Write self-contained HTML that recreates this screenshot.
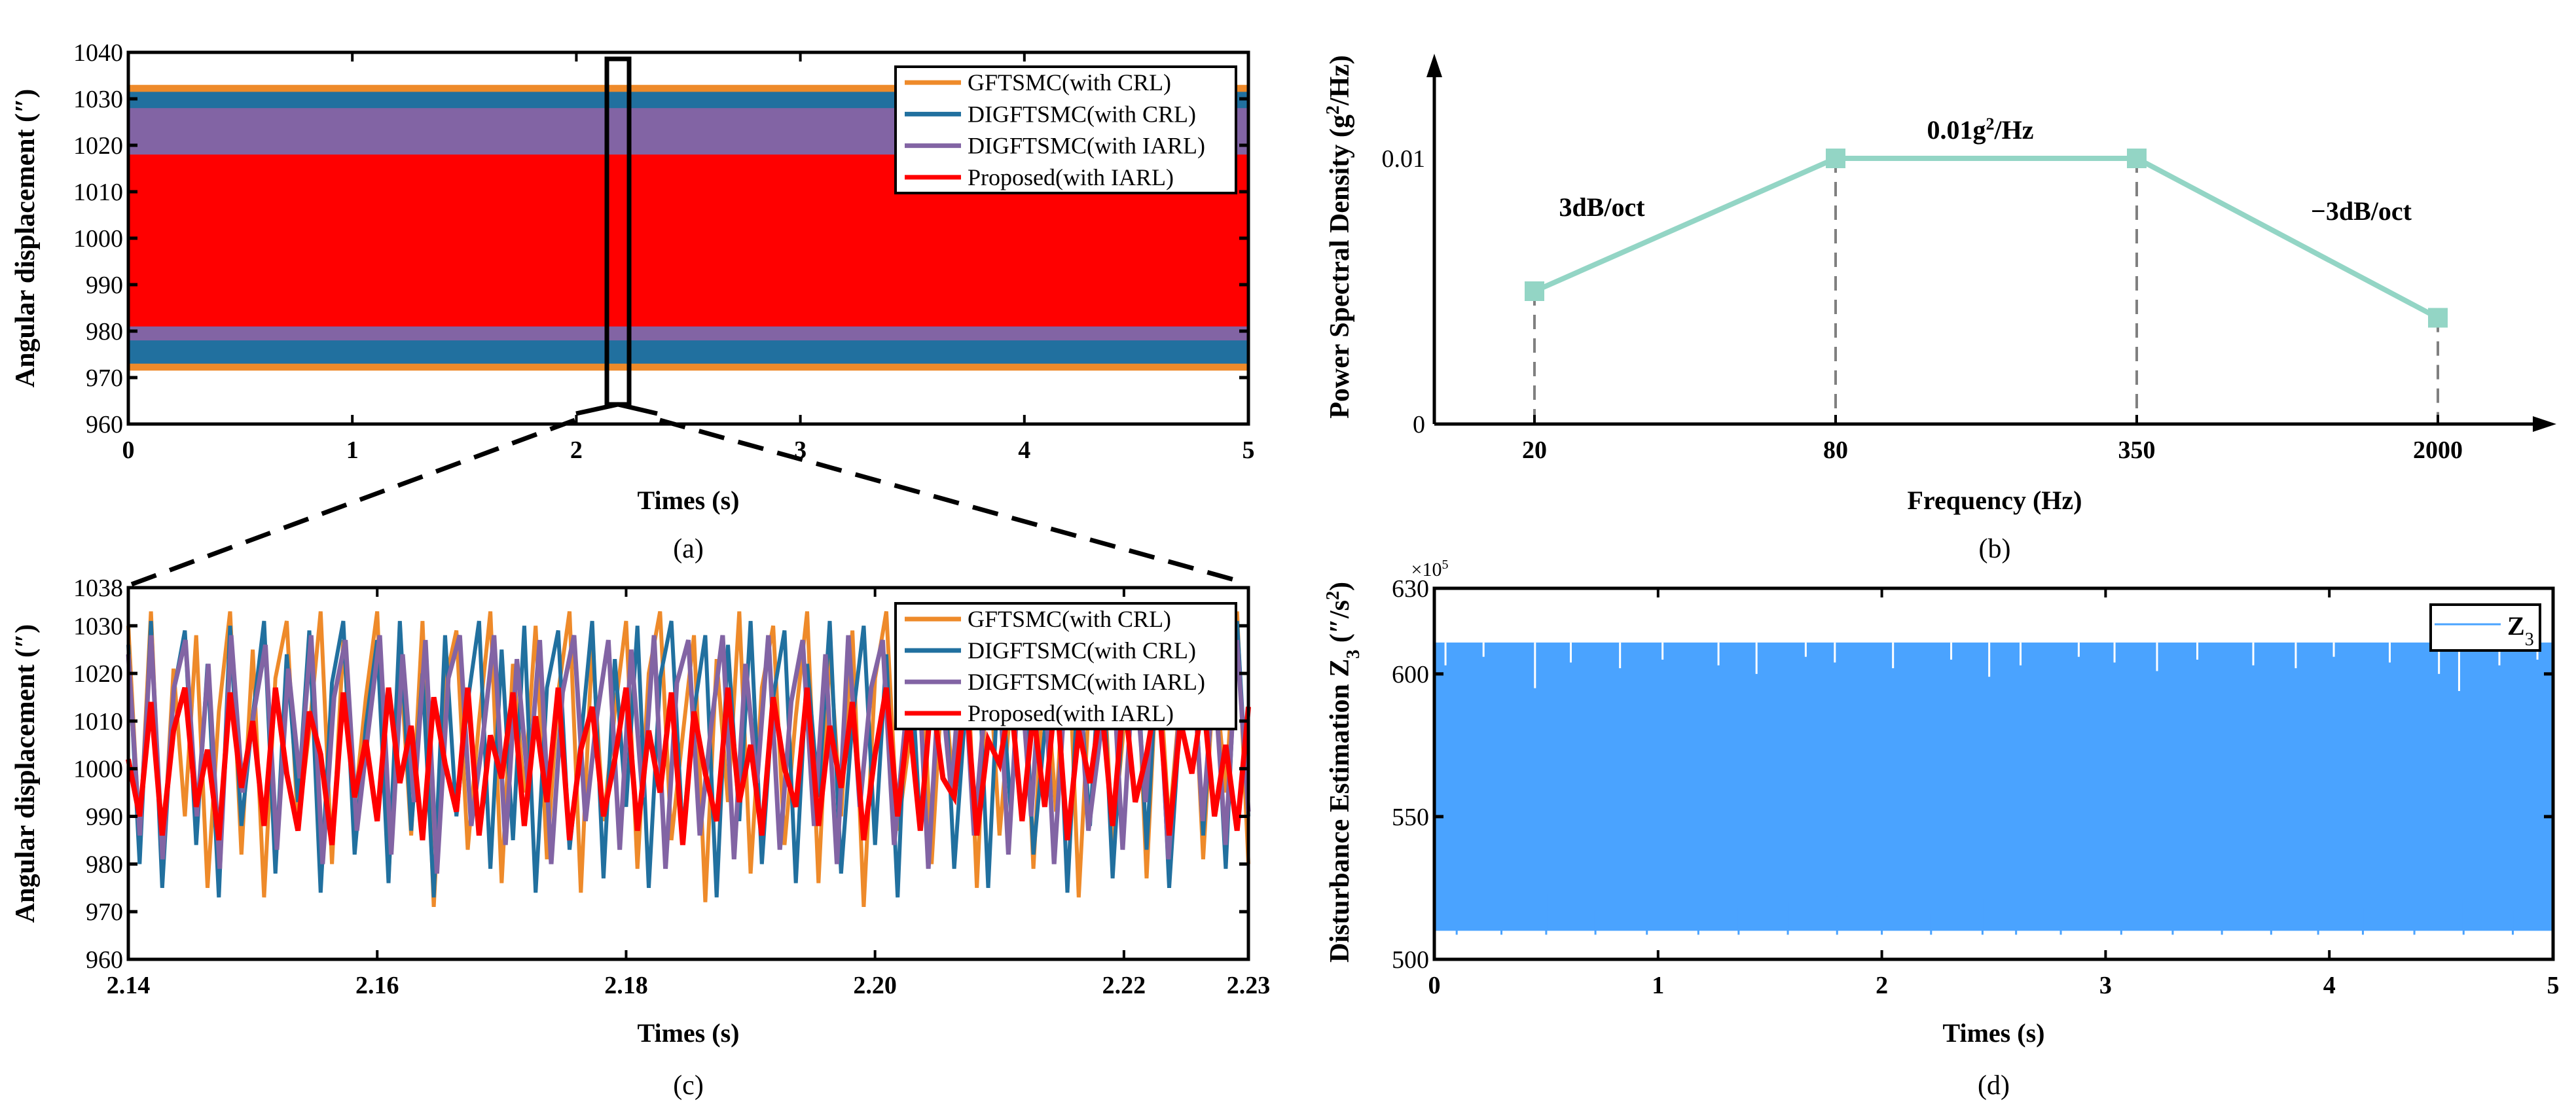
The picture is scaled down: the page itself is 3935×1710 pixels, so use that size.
<!DOCTYPE html>
<html><head><meta charset="utf-8">
<style>
html,body{margin:0;padding:0;background:#fff;}
svg{display:block;font-family:"Liberation Serif",serif;}
</style></head>
<body>
<svg id="fig" width="3935" height="1710" viewBox="0 0 3935 1710" xmlns="http://www.w3.org/2000/svg"></svg>
<script>
// ---------- Panel (a) data: envelopes of each series ----------
const aSeries = ["GFTSMC(with CRL)","DIGFTSMC(with CRL)","DIGFTSMC(with IARL)","Proposed(with IARL)"];
const aColors = ["#EE8A2A","#21709F","#8264A4","#FF0000"];
const aUpper = [1033, 1031.5, 1028, 1018];
const aLower = [971.5, 973, 978, 981];
const aYTicks = [960,970,980,990,1000,1010,1020,1030,1040];
const aXTicks = [0,1,2,3,4,5];

// ---------- Panel (c) data: zoomed signals ----------
const cXTicks = [2.14,2.16,2.18,2.20,2.22,2.23];
const cYTicks = [960,970,980,990,1000,1010,1020,1030,1038];
const cOrange = [1030,985,1033,978,1021,990,1028,975,1012,1033,982,1025,973,1019,1031,988,1008,1033,980,1027,992,1015,1033,977,1024,986,1031,971,1018,1029,983,1010,1033,976,1022,995,1030,981,1016,1033,974,1026,989,1012,1031,979,1020,1033,985,1007,1028,972,1023,993,1033,978,1017,1030,984,1011,1033,976,1025,990,1029,971,1019,1033,987,1005,1031,980,1021,994,1033,975,1027,986,1014,1032,979,1024,991,1033,973,1018,1030,984,1009,1033,977,1026,988,1016,1031,981,1022,995,1033,980];
const cBlue = [1026,980,1031,975,1016,1029,984,1022,973,1030,988,1011,1031,978,1024,993,1029,974,1018,1031,982,1009,1027,976,1031,987,1020,973,1028,990,1014,1031,979,1025,985,1030,974,1017,1029,983,1006,1031,977,1023,992,1030,975,1019,1031,986,1012,1028,973,1026,989,1031,980,1015,1029,976,1022,994,1031,978,1010,1030,984,1024,973,1031,987,1018,1028,979,1013,1031,975,1025,991,1030,982,1008,1031,974,1021,988,1029,977,1016,1031,983,1026,975,1012,1030,986,1023,979,1031,990];
const cPurple = [1024,986,1028,981,1017,1027,990,1022,979,1028,995,1012,1026,983,1021,998,1028,980,1015,1027,987,1008,1028,982,1024,993,1027,978,1019,1028,988,1006,1028,984,1023,996,1027,980,1016,1028,989,1011,1027,983,1025,994,1028,979,1018,1027,986,1009,1028,981,1022,997,1028,983,1014,1027,988,1024,980,1028,992,1017,1027,984,1010,1028,979,1021,995,1027,986,1015,1028,982,1023,990,1028,980,1018,1027,987,1006,1028,983,1024,993,1027,981,1013,1028,989,1020,984,1027,991];
const cRed = [1002,990,1014,986,1008,1017,992,1004,985,1016,996,1010,988,1017,999,987,1012,1003,984,1016,994,1006,989,1017,997,1009,985,1015,1001,991,1017,986,1007,998,1016,988,1011,993,1017,985,1004,1013,990,1002,1017,987,1008,995,1016,984,1012,999,989,1017,993,1005,986,1015,1000,992,1017,988,1009,996,1014,985,1003,1017,990,1011,987,1016,998,994,1017,986,1006,1001,1015,989,1012,992,1017,985,1008,997,1014,988,1016,993,1003,1017,986,1010,999,1015,990,1005,987,1013];

// ---------- Panel (b) data ----------
const bFreqLabels = ["20","80","350","2000"];
const bPSD = [0.005, 0.01, 0.01, 0.004];
const bYTicks = [0, 0.01];

// ---------- Panel (d) data ----------
const dXTicks = [0,1,2,3,4,5];
const dYTicks = [500,550,600,630];
const dUpper = 611;
const dLower = 510;
const dDipTimes = [0.05,0.22,0.45,0.61,0.83,1.02,1.27,1.44,1.66,1.79,2.05,2.31,2.48,2.62,2.88,3.04,3.23,3.41,3.66,3.85,4.02,4.27,4.49,4.58,4.76,4.93];
const dDipValues = [603,606,595,604,602,605,603,600,606,604,602,605,599,603,606,604,601,605,603,602,606,604,600,594,603,605];
const dRiseTimes = [0.1,0.3,0.5,0.72,0.95,1.18,1.36,1.58,1.8,2.0,2.22,2.45,2.6,2.8,3.07,3.3,3.52,3.74,3.95,4.15,4.38,4.6,4.82];
const dRiseValues = [520,516,523,517,519,516,518,520,522,517,516,521,524,518,519,525,517,520,516,518,519,521,517];

const NS = "http://www.w3.org/2000/svg";
const svg = document.getElementById('fig');
function el(tag, attrs, parent, text){
  const e = document.createElementNS(NS, tag);
  for (const k in attrs) e.setAttribute(k, attrs[k]);
  if (text !== undefined) e.textContent = text;
  (parent || svg).appendChild(e);
  return e;
}
function lin(d0,d1,r0,r1){ return v => r0 + (v-d0)/(d1-d0)*(r1-r0); }

function frame(g, L, R, T, B){
  const f = el('rect',{x:L,y:T,width:R-L,height:B-T,fill:'none',stroke:'#000','stroke-width':5},g);
  
  
}
function yTicksDraw(g, ticks, ys, L, R, labels){
  ticks.forEach((t,i)=>{
    const y = ys(t);
    const tk = el('line',{x1:L,y1:y,x2:L+14,y2:y,stroke:'#000','stroke-width':5},g);
    
    
    if (R) el('line',{x1:R,y1:y,x2:R-14,y2:y,stroke:'#000','stroke-width':5},g);
    const lb = el('text',{x:L-8,y:y+13,'text-anchor':'end','font-size':38},g, labels? labels[i] : String(t));
    
    
  });
}
function xTicksDraw(g, ticks, xs, T, B, labelY, labels, top){
  ticks.forEach((t,i)=>{
    const x = xs(t);
    const tk = el('line',{x1:x,y1:B,x2:x,y2:B-14,stroke:'#000','stroke-width':4},g);
    
    
    if (top) el('line',{x1:x,y1:T,x2:x,y2:T+14,stroke:'#000','stroke-width':4},g);
    const lb = el('text',{x:x,y:labelY,'text-anchor':'middle','font-size':38,'font-weight':'bold'},g, labels? labels[i] : String(t));
    
    
  });
}
function titleY(g, x, y, txt, name){
  const t = el('text',{x:x,y:y,'text-anchor':'middle','font-size':42,'font-weight':'bold',transform:`rotate(-90 ${x} ${y})`},g);
  
  
  return t;
}
function textAt(g,x,y,txt,size,weight,name,anchor){
  const t = el('text',{x:x,y:y,'text-anchor':anchor||'middle','font-size':size,'font-weight':weight||'normal'},g,txt);
  
  
  return t;
}
function legend(g, x0,y0,x1,y1, names, colors){
  const box = el('rect',{x:x0,y:y0,width:x1-x0,height:y1-y0,fill:'#fff',stroke:'#000','stroke-width':4},g);
  
  
  const step = (y1-y0)/names.length;
  names.forEach((n,i)=>{
    const y = y0 + step*(i+0.5);
    const ln = el('line',{x1:x0+14,y1:y,x2:x0+100,y2:y,stroke:colors[i],'stroke-width':7},g);
    
    
    const t = el('text',{x:x0+110,y:y+12,'font-size':36},g,n);
    
    
  });
}

// ================= Panel (a) =================
(function(){
  const g = el('g',{});
  
  
  const L=196,R=1907,T=80,B=648;
  const xs = lin(0,5,L,R), ys = lin(960,1040,B,T);
  aSeries.forEach((s,i)=>{
    const r = el('rect',{x:L,y:ys(aUpper[i]),width:R-L,height:ys(aLower[i])-ys(aUpper[i]),fill:aColors[i]},g);
    
    
  });
  frame(g,L,R,T,B);
  yTicksDraw(g,aYTicks,ys,L,R);
  xTicksDraw(g,aXTicks,xs,T,B,700,null,true);
  textAt(g,(L+R)/2,778,'Times (s)',40,'bold','x-axis-title-a');
  const yt = titleY(g,52,(T+B)/2,'','y-axis-title-a');
  yt.textContent = 'Angular displacement (″)';
  textAt(g,(L+R)/2,852,'(a)',42,'normal','caption-a');
  legend(g,1368,102,1888,295,aSeries,aColors);
  const zb = el('rect',{x:927,y:90,width:34,height:528,fill:'none',stroke:'#000','stroke-width':7},g);
  
  
  const tri = el('polyline',{points:'880,632 944,618 1004,632',fill:'none',stroke:'#000','stroke-width':7},g);
  
  
  const d1 = el('line',{x1:878,y1:642,x2:198,y2:894,stroke:'#000','stroke-width':7,'stroke-dasharray':'40 22'},g);
  
  
  const d2 = el('line',{x1:1008,y1:642,x2:1900,y2:890,stroke:'#000','stroke-width':7,'stroke-dasharray':'40 22'},g);
  
  
})();

// ================= Panel (c) =================
(function(){
  const g = el('g',{});
  
  
  const L=196,R=1907,T=898,B=1466;
  const xs = lin(2.14,2.23,L,R), ys = lin(960,1038,B,T);
  const series = [cOrange,cBlue,cPurple,cRed];
  const widths = [6,6,7,8];
  series.forEach((arr,i)=>{
    const n = arr.length;
    const pts = arr.map((v,k)=> `${xs(2.14 + k*(0.09)/(n-1)).toFixed(1)},${ys(v).toFixed(1)}`).join(' ');
    const p = el('polyline',{points:pts,fill:'none',stroke:aColors[i],'stroke-width':widths[i],'stroke-linejoin':'miter'},g);
    
    
  });
  frame(g,L,R,T,B);
  yTicksDraw(g,cYTicks,ys,L,R);
  xTicksDraw(g,cXTicks,xs,T,B,1518,["2.14","2.16","2.18","2.20","2.22","2.23"],true);
  textAt(g,(L+R)/2,1592,'Times (s)',40,'bold','x-axis-title-c');
  const yt = titleY(g,52,(T+B)/2,'','y-axis-title-c');
  yt.textContent = 'Angular displacement (″)';
  textAt(g,(L+R)/2,1672,'(c)',42,'normal','caption-c');
  legend(g,1368,922,1888,1114,aSeries,aColors);
})();

// ================= Panel (b) =================
(function(){
  const g = el('g',{});
  
  
  const L=2191,B=648,T=82,Rend=3905;
  const xpos = [2344,2804,3263,3725];
  const xs = i => xpos[0] + i*(xpos[1]-xpos[0]);
  const ys = lin(0,0.01,B,242);
  const ax = el('line',{x1:L,y1:B,x2:Rend-30,y2:B,stroke:'#000','stroke-width':5},g);
  
  
  const ay = el('line',{x1:L,y1:B,x2:L,y2:T+30,stroke:'#000','stroke-width':5},g);
  
  
  const ah1 = el('polygon',{points:`${L-12},${T+36} ${L+12},${T+36} ${L},${T}`,fill:'#000'},g);
  
  
  const ah2 = el('polygon',{points:`${Rend-36},${B-12} ${Rend-36},${B+12} ${Rend},${B}`,fill:'#000'},g);
  
  
  bPSD.forEach((v,i)=>{
    const dl = el('line',{x1:xs(i),y1:ys(v),x2:xs(i),y2:B,stroke:'#808080','stroke-width':4,'stroke-dasharray':'22 14'},g);
    
    
    el('line',{x1:xs(i),y1:B,x2:xs(i),y2:B-14,stroke:'#000','stroke-width':4},g);
    const lb = el('text',{x:xs(i),y:700,'text-anchor':'middle','font-size':38,'font-weight':'bold'},g,bFreqLabels[i]);
    
    
  });
  const pts = bPSD.map((v,i)=>`${xs(i)},${ys(v)}`).join(' ');
  const pl = el('polyline',{points:pts,fill:'none',stroke:'#93D5C5','stroke-width':8},g);
  
  
  bPSD.forEach((v,i)=>{
    const m = el('rect',{x:xs(i)-15,y:ys(v)-15,width:30,height:30,fill:'#93D5C5'},g);
    
    
  });
  bYTicks.forEach(t=>{
    const lb = el('text',{x:L-14,y:ys(t)+13,'text-anchor':'end','font-size':38},g,String(t));
    
    
  });
  textAt(g,2447,330,'3dB/oct',40,'bold','slope-label-up');
  const t2 = textAt(g,3025,212,'',40,'bold','plateau-label');
  t2.innerHTML = '0.01g<tspan baseline-shift="super" font-size="26">2</tspan>/Hz';
  textAt(g,3607,336,'−3dB/oct',40,'bold','slope-label-down');
  textAt(g,3047,778,'Frequency (Hz)',40,'bold','x-axis-title-b');
  const yt = titleY(g,2060,362,'','y-axis-title-b');
  yt.innerHTML = 'Power Spectral Density (g<tspan baseline-shift="super" font-size="28">2</tspan>/Hz)';
  textAt(g,3047,852,'(b)',42,'normal','caption-b');
})();

// ================= Panel (d) =================
(function(){
  const g = el('g',{});
  
  
  const L=2191,R=3900,T=899,B=1466;
  const xs = lin(0,5,L,R), ys = lin(500,630,B,T);
  const band = el('rect',{x:L,y:ys(dUpper),width:R-L,height:ys(dLower)-ys(dUpper),fill:'#4AA3FF'},g);
  
  
  dDipTimes.forEach((t,i)=>{
    const l = el('line',{x1:xs(t),y1:ys(dUpper),x2:xs(t),y2:ys(dDipValues[i]),stroke:'#fff','stroke-width':3},g);
    
    
  });
  dRiseTimes.forEach((t,i)=>{
    const l = el('line',{x1:xs(t),y1:ys(dLower)+6,x2:xs(t),y2:ys(dRiseValues[i]),stroke:'#4AA3FF','stroke-width':3},g);
    
    
  });
  frame(g,L,R,T,B);
  yTicksDraw(g,dYTicks,ys,L,R);
  xTicksDraw(g,dXTicks,xs,T,B,1518,null,true);
  textAt(g,2184,880,'',30,'normal','y-scale-factor').innerHTML='×10<tspan baseline-shift="super" font-size="20">5</tspan>';
  textAt(g,(L+R)/2,1592,'Times (s)',40,'bold','x-axis-title-d');
  const yt = titleY(g,2060,1180,'','y-axis-title-d');
  yt.innerHTML = 'Disturbance Estimation Z<tspan baseline-shift="sub" font-size="28">3</tspan> (″/s<tspan baseline-shift="super" font-size="28">2</tspan>)';
  textAt(g,(L+R)/2,1672,'(d)',42,'normal','caption-d');
  const box = el('rect',{x:3713,y:924,width:167,height:70,fill:'#fff',stroke:'#000','stroke-width':4},g);
  
  
  const ln = el('line',{x1:3719,y1:954,x2:3820,y2:954,stroke:'#4AA3FF','stroke-width':3},g);
  
  
  const lt = el('text',{x:3830,y:970,'font-size':40,'font-weight':'bold'},g);
  lt.innerHTML = 'Z<tspan baseline-shift="sub" font-size="28" font-weight="normal">3</tspan>';
  
  
})();
</script>
</body></html>
